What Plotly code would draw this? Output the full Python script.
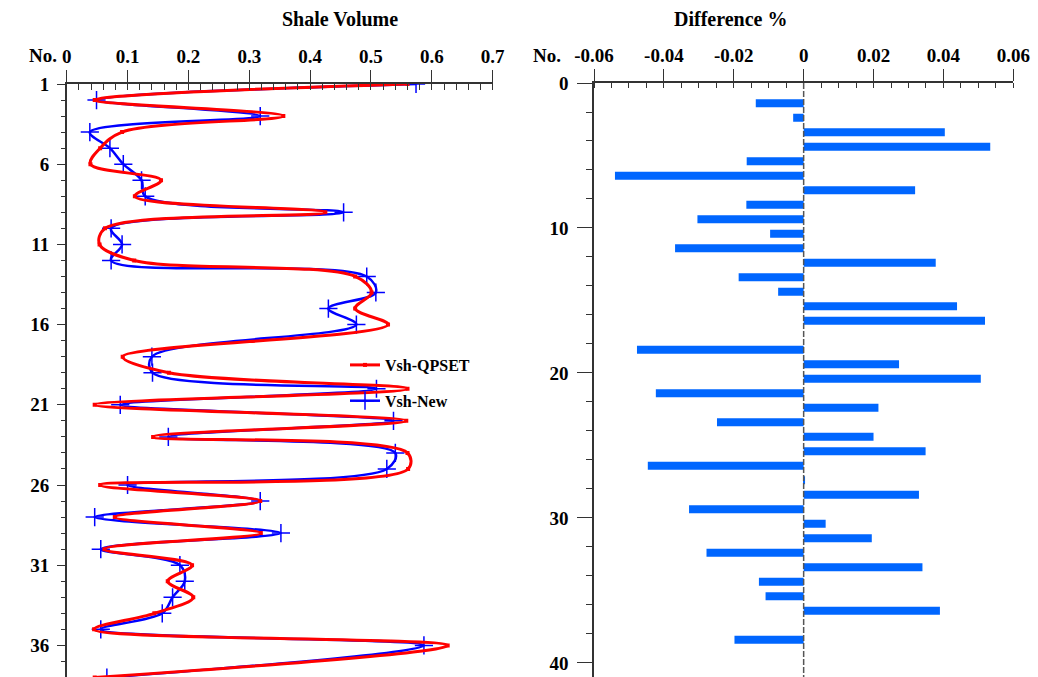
import plotly.graph_objects as go

# Sample number (depth order) for each log point
sample_no = list(range(1, 39))

# Shale volume from the new method and from QPSET (samples 17 and 37 have no reading)
vsh_new = [0.574, 0.049, 0.318, 0.038, 0.071, 0.093, 0.123, 0.129, 0.455, 0.073,
           0.091, 0.073, 0.493, 0.508, 0.430, 0.476, None, 0.140, 0.141, 0.509,
           0.088, 0.537, 0.167, 0.540, 0.526, 0.100, 0.318, 0.046, 0.352, 0.056,
           0.186, 0.194, 0.174, 0.157, 0.056, 0.587, None, 0.066]
vsh_qpset = [0.560, 0.046, 0.356, 0.091, 0.055, 0.039, 0.155, 0.112, 0.425, 0.063,
             0.054, 0.111, 0.474, 0.501, 0.474, 0.528, None, 0.092, 0.168, 0.560,
             0.046, 0.558, 0.142, 0.560, 0.561, 0.055, 0.318, 0.079, 0.319, 0.062,
             0.206, 0.166, 0.208, 0.144, 0.045, 0.626, None, 0.046]

# Difference between the two methods
difference = [-0.0137, -0.0030, 0.0404, 0.0534, -0.0163, -0.0540, 0.0319, -0.0164, -0.0304, -0.0096,
              -0.0368, 0.0378, -0.0186, -0.0073, 0.0439, 0.0519, None, -0.0477, 0.0273, 0.0507,
              -0.0423, 0.0214, -0.0248, 0.0200, 0.0349, -0.0446, 0.0004, 0.0330, -0.0328, 0.0063,
              0.0195, -0.0278, 0.0340, -0.0128, -0.0109, 0.0390, None, -0.0198]

diff_ticks = [-0.06, -0.04, -0.02, 0, 0.02, 0.04, 0.06]
diff_labels = ["-0.06", "-0.04", "-0.02", "0", "0.02", "0.04", "0.06"]

W, H = 1038, 677
SERIF = "Liberation Serif"
AX = "#333333"
tickfont = dict(family=SERIF, size=19, color="black", weight="bold")

fig = go.Figure()

fig.add_trace(go.Scatter(
    x=vsh_new, y=sample_no, name="Vsh-New", mode="lines+markers",
    line=dict(color="#0000ff", width=2.5, shape="spline", smoothing=1.0),
    marker=dict(symbol="cross-thin-open", size=13, line=dict(color="#0000ff", width=1.5)),
    connectgaps=True, xaxis="x", yaxis="y", legendrank=2, legendgroup="b"))
fig.add_trace(go.Scatter(
    x=vsh_qpset, y=sample_no, name="Vsh-QPSET", mode="lines+markers",
    line=dict(color="#ff0000", width=3, shape="spline", smoothing=1.0),
    marker=dict(symbol="square", size=4, color="#ff0000"),
    connectgaps=True, xaxis="x", yaxis="y", legendrank=1, legendgroup="a"))

fig.add_trace(go.Bar(
    x=difference, y=sample_no, orientation="h", width=0.55, offset=0.12,
    marker=dict(color="#0066ff", line=dict(width=0)),
    xaxis="x2", yaxis="y2", showlegend=False))

left_dom = [66.7 / W, 492.7 / W]
right_dom = [594 / W, 1013.3 / W]

top_axis = dict(side="top", showline=True, linecolor=AX, linewidth=1.5,
                ticks="outside", ticklen=12, tickwidth=1.3, tickcolor=AX,
                showgrid=False, zeroline=False, tickfont=tickfont,
                ticklabelstandoff=0, automargin=False)

fig.update_layout(
    width=W, height=H, margin=dict(l=0, r=0, t=0, b=0, autoexpand=False),
    paper_bgcolor="white", plot_bgcolor="white",
    barmode="overlay",
    xaxis=dict(domain=left_dom, anchor="y", range=[0, 0.7], dtick=0.1, tick0=0,
               minor=dict(dtick=0.02, ticks="inside", ticklen=6, tickcolor=AX, tickwidth=1.2),
               **top_axis),
    xaxis3=dict(overlaying="x", anchor="y", side="top", range=[0, 0.7], dtick=0.1, tick0=0,
                ticks="inside", ticklen=6, tickwidth=1.3, tickcolor=AX, automargin=False,
                showticklabels=False, showline=False, showgrid=False, zeroline=False),
    yaxis=dict(domain=[0, 1 - 84 / H], anchor="x", range=[37.97, 1], autorange=False,
               tick0=1, dtick=5, ticks="outside", ticklen=8, tickwidth=1.3, tickcolor=AX,
               minor=dict(dtick=1, tick0=1, ticks="outside", ticklen=4, tickcolor=AX, tickwidth=1.2),
               showline=True, linecolor=AX, linewidth=1.5, showgrid=False, zeroline=False,
               tickfont=tickfont, ticklabelstandoff=4, automargin=False),
    xaxis2=dict(domain=right_dom, anchor="y2", range=[-0.06, 0.06],
                tickvals=diff_ticks, ticktext=diff_labels,
                minor=dict(dtick=0.005, tick0=0, ticks="inside", ticklen=5, tickcolor=AX, tickwidth=1.2),
                **top_axis),
    xaxis4=dict(overlaying="x2", anchor="y2", side="top", range=[-0.06, 0.06],
                tickvals=diff_ticks, ticks="inside", ticklen=5, tickwidth=1.3, tickcolor=AX,
                automargin=False,
                showticklabels=False, showline=False, showgrid=False, zeroline=False),
    yaxis2=dict(domain=[0, 1 - 83 / H], anchor="x2", range=[40.97, 0], autorange=False,
                tick0=0, dtick=10, ticks="outside", ticklen=15, tickwidth=1.3, tickcolor=AX,
                minor=dict(dtick=2, tick0=0, ticks="outside", ticklen=6, tickcolor=AX, tickwidth=1.2),
                showline=True, linecolor=AX, linewidth=1.5, showgrid=False, zeroline=False,
                tickfont=tickfont, ticklabelstandoff=5, automargin=False),
    legend=dict(x=345 / W, y=1 - 348 / H, xanchor="left", yanchor="top",
                bgcolor="rgba(0,0,0,0)", traceorder="grouped", tracegroupgap=12,
                font=dict(family=SERIF, size=16, color="black", weight="bold")),
    showlegend=True,
)

# Zero reference line of the difference panel
fig.add_shape(type="line", xref="x2", yref="y2", x0=0, x1=0, y0=0, y1=40.97,
              line=dict(color="#555555", width=1.5, dash="6px,2px"), layer="above")

title_font = dict(family=SERIF, size=20, color="black", weight="bold")
fig.add_annotation(text="Shale Volume", xref="paper", yref="paper", yanchor="middle",
                   x=sum(left_dom) / 2, y=1 - 19 / H, showarrow=False, font=title_font)
fig.add_annotation(text="Difference %", xref="paper", yref="paper", yanchor="middle",
                   x=sum(right_dom) / 2 - 15 / W, y=1 - 19 / H, showarrow=False, font=title_font)
fig.add_annotation(text="No.", xref="paper", yref="paper", x=27 / W, y=1 - 55 / H,
                   yanchor="middle", showarrow=False, font=tickfont)
fig.add_annotation(text="No.", xref="paper", yref="paper", x=547 / W, y=1 - 55 / H,
                   yanchor="middle", showarrow=False, font=tickfont)

fig.write_html("out.html")
